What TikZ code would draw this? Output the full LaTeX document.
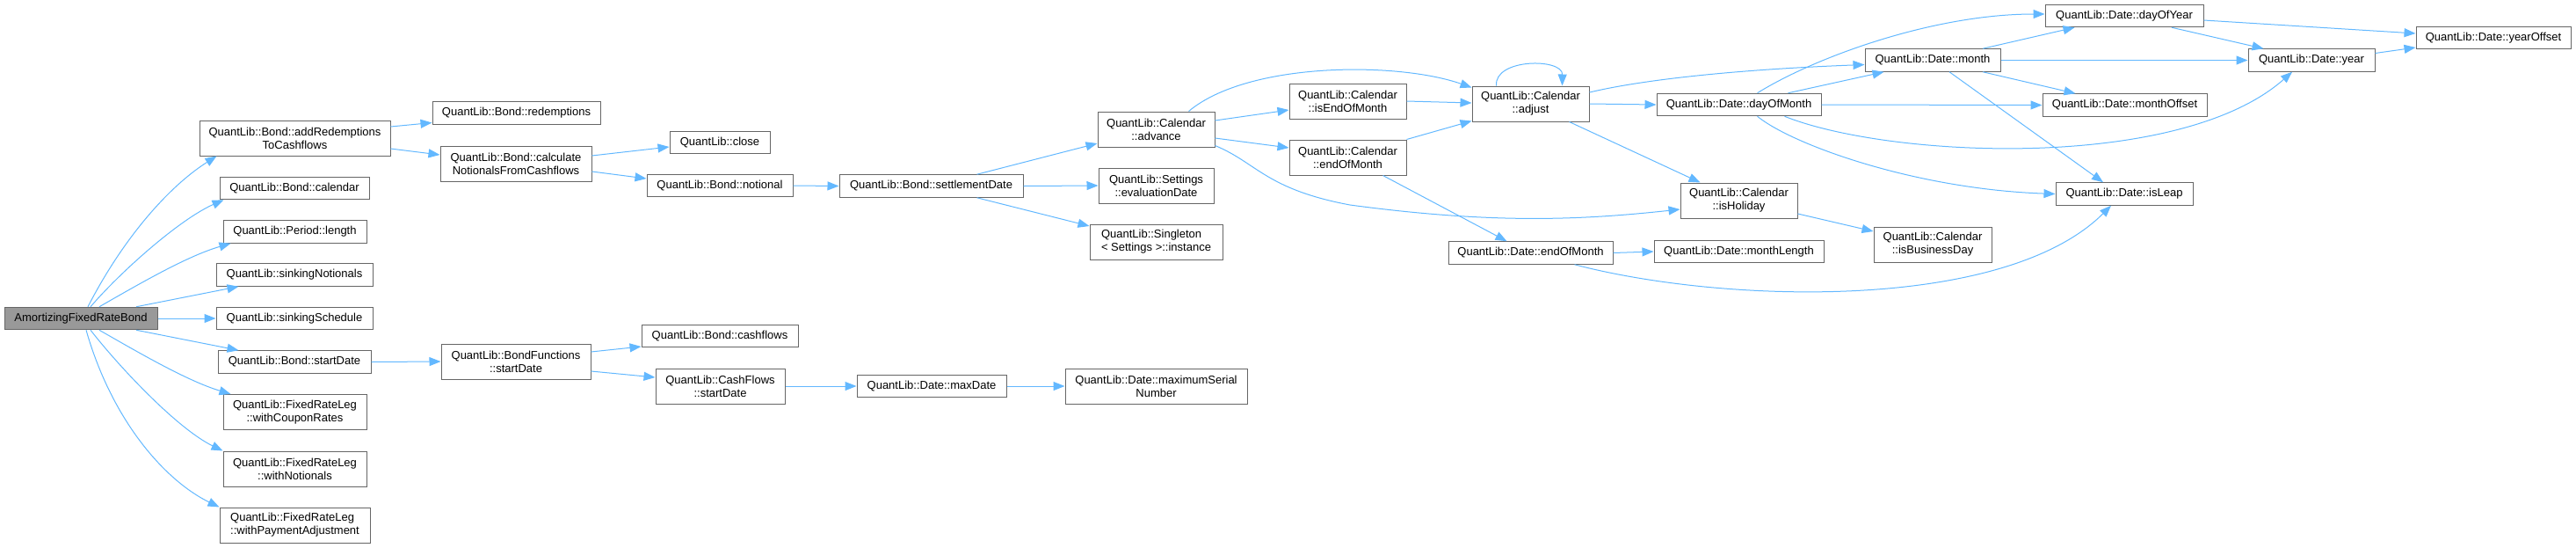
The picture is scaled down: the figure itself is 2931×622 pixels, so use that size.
\documentclass[tikz,border=0pt]{standalone}
\usepackage{fontspec}
\setmainfont{Liberation Sans}
\usetikzlibrary{arrows.meta}
\definecolor{edgeblue}{RGB}{99,184,255}
\definecolor{boxgray}{RGB}{102,102,102}
\definecolor{rootgray}{RGB}{153,153,153}

\begin{document}
\begin{tikzpicture}[x=1pt,y=-1pt,>={Triangle[length=13pt,width=10pt]},
  every node/.style={font=\fontsize{13}{15}\selectfont},
  fn/.style={draw=boxgray,line width=1pt,fill=white,inner sep=1pt,align=center,minimum height=25.5pt},
  fntwo/.style={fn,minimum height=40pt},
  call/.style={->,draw=edgeblue,line width=1pt}]
  \useasboundingbox (0,0) rectangle (2931,622);
  \node[fn,fill=rootgray,minimum width=174pt] (afrb) at (92,362) {AmortizingFixedRateBond};
  \node[fntwo,minimum width=217pt] (addred) at (335.5,157) {QuantLib::Bond::addRedemptions\\ToCashflows};
  \node[fn,minimum width=170pt] (calendar) at (335,214) {QuantLib::Bond::calendar};
  \node[fn,minimum width=163pt] (length) at (335.5,263.5) {QuantLib::Period::length};
  \node[fn,minimum width=178pt] (sinkn) at (335,312.5) {QuantLib::sinkingNotionals};
  \node[fn,minimum width=178pt] (sinks) at (335,362) {QuantLib::sinkingSchedule};
  \node[fn,minimum width=174pt] (bondstart) at (335,411.5) {QuantLib::Bond::startDate};
  \node[fntwo,minimum width=163pt] (withcoupon) at (335.5,468.5) {QuantLib::FixedRateLeg\\::withCouponRates};
  \node[fntwo,minimum width=163pt] (withnot) at (335.5,533) {QuantLib::FixedRateLeg\\::withNotionals};
  \node[fntwo,minimum width=171pt,align=left] (withpay) at (335.5,597) {QuantLib::FixedRateLeg\\::withPaymentAdjustment};
  \node[fn,minimum width=191pt] (redemptions) at (587.5,128.5) {QuantLib::Bond::redemptions};
  \node[fntwo,minimum width=172pt] (calcnot) at (587,186) {QuantLib::Bond::calculate\\NotionalsFromCashflows};
  \node[fn,minimum width=114pt] (close) at (819,162) {QuantLib::close};
  \node[fn,minimum width=166pt] (notional) at (819,211) {QuantLib::Bond::notional};
  \node[fn,minimum width=209pt] (settle) at (1059.5,211.5) {QuantLib::Bond::settlementDate};
  \node[fntwo,minimum width=133pt] (advance) at (1315.5,147) {QuantLib::Calendar\\::advance};
  \node[fntwo,minimum width=131pt] (evaldate) at (1315.5,211) {QuantLib::Settings\\::evaluationDate};
  \node[fntwo,minimum width=151pt,align=left] (instance) at (1315.5,275) {QuantLib::Singleton\\< Settings >::instance};
  \node[fntwo,minimum width=133pt] (iseom) at (1533.5,115) {QuantLib::Calendar\\::isEndOfMonth};
  \node[fntwo,minimum width=133pt] (caleom) at (1533.5,179) {QuantLib::Calendar\\::endOfMonth};
  \node[fntwo,minimum width=133pt] (adjust) at (1741.5,118) {QuantLib::Calendar\\::adjust};
  \node[fn,minimum width=187pt] (dateeom) at (1741.5,287.5) {QuantLib::Date::endOfMonth};
  \node[fn,minimum width=187pt] (dom) at (1978.5,119) {QuantLib::Date::dayOfMonth};
  \node[fntwo,minimum width=133pt] (isholiday) at (1978.5,228) {QuantLib::Calendar\\::isHoliday};
  \node[fn,minimum width=193pt] (monthlen) at (1978.5,286) {QuantLib::Date::monthLength};
  \node[fn,minimum width=154pt] (month) at (2199,68.5) {QuantLib::Date::month};
  \node[fntwo,minimum width=134pt] (isbusday) at (2199,278) {QuantLib::Calendar\\::isBusinessDay};
  \node[fn,minimum width=180pt] (doy) at (2417,18) {QuantLib::Date::dayOfYear};
  \node[fn,minimum width=187pt] (monthoff) at (2417.5,119.5) {QuantLib::Date::monthOffset};
  \node[fn,minimum width=156pt] (isleap) at (2417,220.5) {QuantLib::Date::isLeap};
  \node[fn,minimum width=144pt] (year) at (2630,68.5) {QuantLib::Date::year};
  \node[fn,minimum width=176pt] (yearoff) at (2837,43) {QuantLib::Date::yearOffset};
  \node[fntwo,minimum width=170pt] (bfstart) at (587,411) {QuantLib::BondFunctions\\::startDate};
  \node[fn,minimum width=178pt] (bondcash) at (819,382) {QuantLib::Bond::cashflows};
  \node[fntwo,minimum width=147pt] (cfstart) at (819.5,439) {QuantLib::CashFlows\\::startDate};
  \node[fn,minimum width=170pt] (maxdate) at (1060,439) {QuantLib::Date::maxDate};
  \node[fntwo,minimum width=207pt] (maxserial) at (1315.5,439) {QuantLib::Date::maximumSerial\\Number};
  \draw[call] ([xshift=8pt]afrb.north) .. controls (140,271) and (192,212) .. ([xshift=20pt]addred.south west);
  \draw[call] ([xshift=11pt]afrb.north) .. controls (138,308) and (205,249) .. ([xshift=5pt]calendar.south west);
  \draw[call] ([xshift=21pt]afrb.north) .. controls (158,323) and (213,291) .. ([xshift=9pt]length.south west);
  \draw[call] ([xshift=63pt]afrb.north) -- ([xshift=26pt]sinkn.south west);
  \draw[call] (afrb.east) -- (sinks.west);
  \draw[call] ([xshift=63pt]afrb.south) -- ([xshift=24pt]bondstart.north west);
  \draw[call] ([xshift=21pt]afrb.south) .. controls (158,401) and (213,433) .. ([xshift=9pt]withcoupon.north west);
  \draw[call] ([xshift=11pt]afrb.south) .. controls (138,420) and (203,488) .. (withnot.north west);
  \draw[call] ([xshift=6pt]afrb.south) .. controls (128,480) and (189,547) .. (withpay.north west);
  \draw[call] ([yshift=13pt]addred.east) -- ([yshift=-11pt]redemptions.west);
  \draw[call] ([yshift=-12pt]addred.east) -- ([yshift=10pt]calcnot.west);
  \draw[call] ([yshift=9pt]calcnot.east) -- ([yshift=-5pt]close.west);
  \draw[call] ([yshift=-9pt]calcnot.east) -- ([yshift=8pt]notional.west);
  \draw[call] (notional.east) -- (settle.west);
  \draw[call] ([xshift=52pt]settle.north) -- ([yshift=-16pt]advance.west);
  \draw[call] (settle.east) -- (evaldate.west);
  \draw[call] ([xshift=52pt]settle.south) -- ([yshift=18pt]instance.west);
  \draw[call] ([xshift=37pt]advance.north) .. controls (1420,70) and (1590,70) .. ([yshift=-2pt]adjust.north west);
  \draw[call] ([yshift=10pt]advance.east) -- ([yshift=-10pt]iseom.west);
  \draw[call] ([yshift=-10pt]advance.east) -- ([yshift=11pt]caleom.west);
  \draw[call] ([yshift=2pt]advance.south east) .. controls (1430,185) and (1440,215) .. (1536,233)
    .. controls (1700,255) and (1800,250) .. ([yshift=-10pt]isholiday.west);
  \draw[call] (iseom.east) -- ([yshift=1pt]adjust.west);
  \draw[call] (caleom.north east) -- ([yshift=1pt]adjust.south west);
  \draw[call] ([xshift=40pt]caleom.south) -- ([xshift=-27pt]dateeom.north);
  \draw[call] ([xshift=-39pt]adjust.north) .. controls (1700,66) and (1778,66) .. ([xshift=36pt]adjust.north);
  \draw[call] ([yshift=13pt]adjust.east) .. controls (1880,88) and (2000,78) .. ([yshift=-5pt]month.west);
  \draw[call] (adjust.east) -- (dom.west);
  \draw[call] ([xshift=44pt]adjust.south) -- ([xshift=-44pt]isholiday.north);
  \draw[call] ([xshift=56pt]dom.north) -- ([xshift=22pt]month.south west);
  \draw[call] ([xshift=21pt]dom.north) .. controls (2065,65) and (2200,16) .. ([yshift=2pt]doy.west);
  \draw[call] (dom.east) -- (monthoff.west);
  \draw[call] ([xshift=52pt]dom.south) .. controls (2150,180) and (2480,195) .. ([xshift=-22pt]year.south);
  \draw[call] ([xshift=21pt]dom.south) .. controls (2040,165) and (2180,215) .. (isleap.west);
  \draw[call] ([xshift=57pt]month.north) -- ([xshift=34pt]doy.south west);
  \draw[call] (month.east) -- (year.west);
  \draw[call] ([xshift=57pt]month.south) -- ([xshift=38pt]monthoff.north west);
  \draw[call] ([xshift=19pt]month.south) -- ([xshift=-24pt]isleap.north);
  \draw[call] ([yshift=-5pt]doy.east) -- ([yshift=5pt]yearoff.west);
  \draw[call] ([xshift=54pt]doy.south) -- ([xshift=18pt]year.north west);
  \draw[call] ([yshift=8pt]year.east) -- ([yshift=-11pt]yearoff.west);
  \draw[call] ([yshift=-15pt]isholiday.east) -- ([yshift=15pt]isbusday.west);
  \draw[call] (dateeom.east) -- (monthlen.west);
  \draw[call] ([xshift=50pt]dateeom.south) .. controls (1960,345) and (2280,355) .. ([xshift=-15pt]isleap.south);
  \draw[call] (bondstart.east) -- (bfstart.west);
  \draw[call] ([yshift=11pt]bfstart.east) -- ([yshift=-12pt]bondcash.west);
  \draw[call] ([yshift=-11pt]bfstart.east) -- ([yshift=10pt]cfstart.west);
  \draw[call] (cfstart.east) -- (maxdate.west);
  \draw[call] (maxdate.east) -- (maxserial.west);
\end{tikzpicture}
\end{document}
